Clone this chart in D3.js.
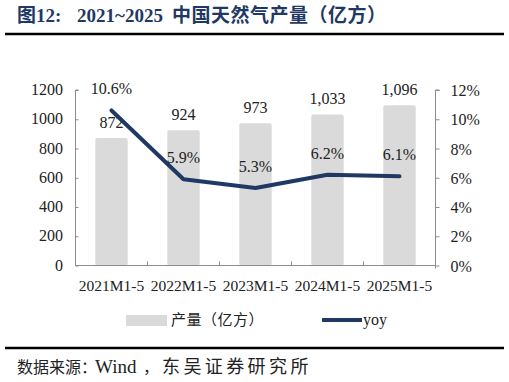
<!DOCTYPE html>
<html>
<head>
<meta charset="utf-8">
<script src="https://cdn.jsdelivr.net/npm/d3@7"></script>
<style>
  body { margin: 0; background: #fff; }
  svg { display: block; }
</style>
</head>
<body>
<div id="chart"></div>
<script>
let w = 509;
let h = 382;

// data
let categories = ["2021M1-5", "2022M1-5", "2023M1-5", "2024M1-5", "2025M1-5"];
let output = [872, 924, 973, 1033, 1096];
let yoy = [10.6, 5.9, 5.3, 6.2, 6.1];
let leftTicks = [0, 200, 400, 600, 800, 1000, 1200];
let rightTicks = [0, 2, 4, 6, 8, 10, 12];

let serif = "'Liberation Serif', 'Times New Roman', serif";
let cjk = "'Liberation Serif', 'Noto Sans CJK SC', serif";
let navy = "#1F3864";

let svg = d3.select("#chart").append("svg")
  .attr("width", w)
  .attr("height", h);

// title, split so the gaps match
let title = svg.append("text")
  .attr("y", 22)
  .attr("font-family", cjk)
  .attr("font-size", 19)
  .attr("font-weight", "bold")
  .attr("fill", navy);
title.append("tspan").attr("x", 17).text("图12:");
title.append("tspan").attr("x", 77).text("2021~2025");
title.append("tspan").attr("x", 172).attr("letter-spacing", 0.5).text("中国天然气产量（亿方）");

svg.append("line")
  .attr("x1", 5).attr("x2", 504)
  .attr("y1", 34).attr("y2", 34)
  .attr("stroke", "#000").attr("stroke-width", 2.5);

let plotL = 75.5, plotR = 435.5, plotT = 90, plotB = 265.5;

let xScale = d3.scaleBand().domain(categories).range([plotL, plotR])
  .paddingInner(0.55).paddingOuter(0.275);
let yLeft = d3.scaleLinear().domain([0, 1200]).range([plotB, plotT]);
let yRight = d3.scaleLinear().domain([0, 12]).range([plotB, plotT]);

// bars
svg.selectAll(".bar").data(output).enter()
  .append("rect")
  .attr("class", "bar")
  .attr("x", (d, i) => xScale(categories[i]))
  .attr("y", d => yLeft(d))
  .attr("width", xScale.bandwidth())
  .attr("height", d => plotB - yLeft(d))
  .attr("rx", 2)
  .attr("fill", "#DADADA");

// axes
let axisColor = "#8c8c8c";
let leftAxis = svg.append("g")
  .attr("transform", "translate(" + plotL + ",0)")
  .call(d3.axisRight(yLeft).tickValues(leftTicks).tickSize(3).tickFormat(""));
leftAxis.select(".domain").attr("d", "M3," + plotT + "H0V" + plotB);
svg.selectAll(".ylabel").data(leftTicks).enter()
  .append("text")
  .attr("x", 63).attr("y", d => yLeft(d) + 5)
  .attr("text-anchor", "end")
  .attr("font-family", serif).attr("font-size", 16).attr("fill", "#222")
  .text(d => d);

let rightAxis = svg.append("g")
  .attr("transform", "translate(" + plotR + ",0)")
  .call(d3.axisRight(yRight).tickValues(rightTicks).tickSize(4)
    .tickFormat(d => d + "%"));
rightAxis.select(".domain").attr("d", "M4," + plotT + "H0V" + (plotB + 3));
rightAxis.selectAll("text")
  .attr("x", 15).attr("dy", "0.35em")
  .attr("font-family", serif).attr("font-size", 16).attr("fill", "#222");

let step = xScale.step();
let bottomAxis = svg.append("g")
  .attr("transform", "translate(0," + plotB + ")");
bottomAxis.append("line")
  .attr("x1", plotL).attr("x2", plotR)
  .attr("stroke", axisColor);
bottomAxis.selectAll(".xtick").data(categories).enter()
  .append("line")
  .attr("x1", (d, i) => plotL + i * step).attr("x2", (d, i) => plotL + i * step)
  .attr("y1", 0).attr("y2", -4)
  .attr("stroke", axisColor);
bottomAxis.selectAll(".xlabel").data(categories).enter()
  .append("text")
  .attr("x", d => xScale(d) + xScale.bandwidth() / 2)
  .attr("y", 25)
  .attr("text-anchor", "middle")
  .attr("font-family", serif).attr("font-size", 15.5).attr("fill", "#222")
  .text(d => d);

svg.selectAll(".domain, .tick line").attr("stroke", axisColor);

// bar labels
svg.selectAll(".barlabel").data(output).enter()
  .append("text")
  .attr("x", (d, i) => xScale(categories[i]) + xScale.bandwidth() / 2)
  .attr("y", d => yLeft(d) - 10)
  .attr("text-anchor", "middle")
  .attr("font-family", serif).attr("font-size", 16).attr("fill", "#222")
  .text(d => d3.format(",")(d));

// yoy line
let line = d3.line()
  .x((d, i) => xScale(categories[i]) + xScale.bandwidth() / 2)
  .y(d => yRight(d));
svg.append("path")
  .datum(yoy)
  .attr("d", line)
  .attr("fill", "none")
  .attr("stroke", navy)
  .attr("stroke-width", 4)
  .attr("stroke-linecap", "round")
  .attr("stroke-linejoin", "round");

svg.selectAll(".yoylabel").data(yoy).enter()
  .append("text")
  .attr("x", (d, i) => xScale(categories[i]) + xScale.bandwidth() / 2)
  .attr("y", d => yRight(d) - 16)
  .attr("text-anchor", "middle")
  .attr("font-family", serif).attr("font-size", 16).attr("fill", "#222")
  .text(d => d.toFixed(1) + "%");

// legend
let legend = svg.append("g");
legend.append("rect")
  .attr("x", 126).attr("y", 315).attr("width", 41).attr("height", 11)
  .attr("fill", "#DADADA");
legend.append("text")
  .attr("x", 171).attr("y", 325)
  .attr("font-family", cjk).attr("font-size", 15).attr("fill", "#222")
  .attr("letter-spacing", 0.5)
  .text("产量（亿方）");
legend.append("line")
  .attr("x1", 322).attr("x2", 362).attr("y1", 320).attr("y2", 320)
  .attr("stroke", navy).attr("stroke-width", 4);
legend.append("text")
  .attr("x", 363).attr("y", 325)
  .attr("font-family", serif).attr("font-size", 16).attr("fill", "#222")
  .text("yoy");

// footer
svg.append("line")
  .attr("x1", 5).attr("x2", 504)
  .attr("y1", 348).attr("y2", 348)
  .attr("stroke", "#000").attr("stroke-width", 2.5);
let src = svg.append("text")
  .attr("y", 373)
  .attr("font-family", cjk).attr("font-size", 16).attr("fill", "#222");
src.append("tspan").attr("x", 17).text("数据来源：");
src.append("tspan").attr("x", 95).attr("font-size", 19).text("Wind");
src.append("tspan").attr("x", 143).text("，");
src.append("tspan").attr("x", 162).attr("font-size", 18).attr("letter-spacing", 3.4)
  .text("东吴证券研究所");
</script>
</body>
</html>
